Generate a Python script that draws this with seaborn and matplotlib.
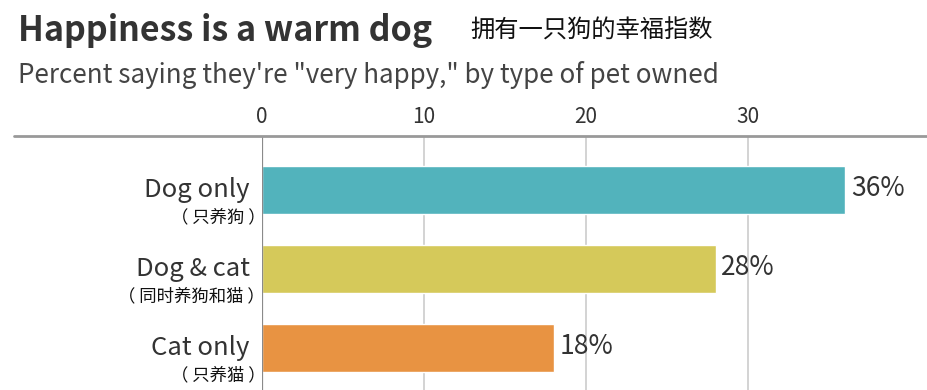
import matplotlib
matplotlib.use('Agg')
import pandas as pd
import seaborn as sns
import matplotlib.pyplot as plt
from matplotlib.lines import Line2D

# Данные
categories = ['Dog only', 'Dog & cat', 'Cat only']
categories_cn = ['（ 只养狗 ）', '（ 同时养狗和猫 ）', '（ 只养猫 ）']
values = [36, 28, 18]
colors = ['#52b3bc', '#d5c95a', '#e89342']
xticks = [0, 10, 20, 30]

df = pd.DataFrame({'pet': categories, 'pct': values})

sns.set_theme(style='white')
plt.rcParams['font.family'] = ['Noto Sans CJK SC', 'DejaVu Sans']
cjk = ['Noto Sans CJK SC', 'DejaVu Sans']

W, H = 927, 390
fig = plt.figure(figsize=(W / 100, H / 100), dpi=100)
# оси от x=262 до правого края, от y=136 до низа
ax = fig.add_axes([262 / W, 0, 1 - 262 / W, (H - 136) / H])

sns.barplot(data=df, x='pct', y='pet', hue='pet', palette=colors,
            order=categories, width=0.61, legend=False, ax=ax, saturation=1)

ax.set_xlim(0, (W - 262) / 16.2)
ax.set_ylim(2.53, -0.684)

# сетка
for t in xticks[1:]:
    ax.axvline(t, color='#d0d0d0', lw=1.3, zorder=0)
ax.axvline(0, color='#8a8a8a', lw=1.6, zorder=3)

for s in ax.spines.values():
    s.set_visible(False)

ax.xaxis.tick_top()
ax.set_xticks(xticks)
ax.set_xticklabels([str(t) for t in xticks], fontsize=15, color='#333333')
ax.tick_params(axis='x', length=0, pad=6)
ax.set_yticks([])
ax.set_xlabel('')
ax.set_ylabel('')

# подписи категорий
for i, (en, cn) in enumerate(zip(categories, categories_cn)):
    ax.text(-0.75, i + 0.0, en, ha='right', va='center', fontsize=18.5,
            color='#333333')
    ax.text(0.2, i + 0.34, cn, ha='right', va='center', fontsize=12.5,
            color='#111111', fontweight='medium', family=cjk)

# значения
for i, v in enumerate(values):
    ax.text(v + 0.35, i - 0.02, f'{v}%', ha='left', va='center', fontsize=19,
            color='#333333')

# верхняя линия на всю ширину
fig.add_artist(Line2D([14 / W, 1], [(H - 136) / H] * 2, color='#999999', lw=2))

fig.text(18 / W, 1 - 31 / H, 'Happiness is a warm dog', fontsize=24.5,
         fontweight='bold', color='#333333', va='center')
fig.text(470 / W, 1 - 31 / H, '拥有一只狗的幸福指数', fontsize=17.5,
         color='#111111', va='center', family=cjk)
fig.text(18 / W, 1 - 75 / H, 'Percent saying they\'re "very happy," by type of pet owned',
         fontsize=18.7, color='#444444', va='center')

fig.savefig('out.png', dpi=100)
